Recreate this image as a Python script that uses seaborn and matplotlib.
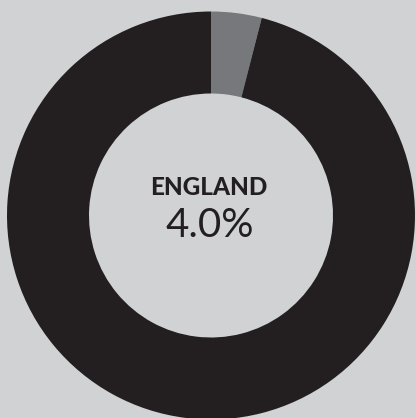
import matplotlib
matplotlib.use("Agg")
import matplotlib.pyplot as plt
import seaborn as sns

# %% data
labels = ["England", "Rest"]
shares = [4.0, 96.0]
title = "ENGLAND"
value_text = "4.0%"

bg = "#d1d2d4"
colors = ["#77787b", "#231f20"]

sns.set_style("white")
plt.rcParams['font.family'] = ['Lato', 'DejaVu Sans']

# %% donut
fig = plt.figure(figsize=(4.16, 4.18), dpi=100, facecolor=bg)
ax = fig.add_axes([0, 0, 1, 1])
ax.set_facecolor(bg)

ax.pie(shares, colors=colors, startangle=90, counterclock=False,
       center=(211, 202.5), radius=204,
       wedgeprops=dict(width=82, linewidth=0))
ax.set_xlim(0, 416)
ax.set_ylim(0, 418)
ax.set_aspect("equal")
ax.axis("off")

ax.text(209, 223, title, ha="center", va="baseline", fontsize=17.5,
        fontweight="black", color="#231f20")
ax.text(210, 181, value_text, ha="center", va="baseline", fontsize=29,
        fontweight="normal", color="#231f20")

fig.savefig("out.png", dpi=100, facecolor=bg)
